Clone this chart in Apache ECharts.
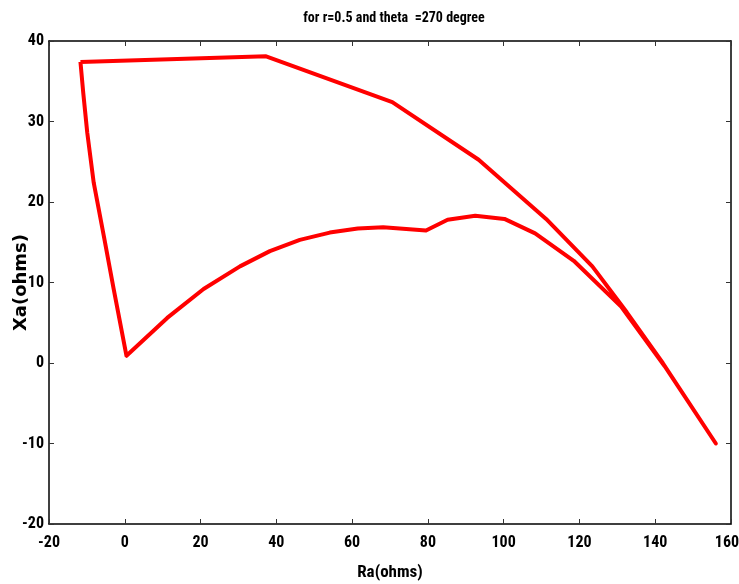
<!DOCTYPE html>
<html>
<head>
<meta charset="utf-8">
<script src="https://cdn.jsdelivr.net/npm/echarts@6/dist/echarts.min.js"></script>
<style>
html,body{margin:0;padding:0;background:#fff;}
#chart{width:739px;height:584px;}
</style>
</head>
<body>
<div id="chart"></div>
<script>
var titleText = 'for r=0.5 and theta  =270 degree';
var xName = 'Ra(ohms)';
var yName = 'Xa(ohms)';
var xTicks = [-20, 0, 20, 40, 60, 80, 100, 120, 140, 160];
var yTicks = [-20, -10, 0, 10, 20, 30, 40];
// path traced around the closed loop
var raValues = [-11.7, 37.3, 70.6, 93.4, 111.2, 123.4, 132.5, 142.0, 156.0,
                142.5, 131.0, 118.5, 108.3, 100.2, 92.5, 85.2, 79.5, 68.2, 61.5, 54.1, 46.2, 38.3, 30.4, 20.8, 11.2, 0.45,
                -2.9, -5.5, -8.2, -9.9, -10.95, -11.7];
var xaValues = [37.4, 38.1, 32.4, 25.25, 17.9, 12.0, 6.3, 0.0, -10.0,
                -0.4, 7.0, 12.7, 16.1, 17.9, 18.3, 17.8, 16.45, 16.85, 16.7, 16.2, 15.3, 13.9, 12.0, 9.2, 5.6, 0.9,
                9.1, 15.7, 22.4, 28.6, 33.5, 37.4];

var pts = raValues.map(function(v, i){ return [v, xaValues[i]]; });
var font = '"Liberation Sans Narrow", "Roboto Condensed", "Liberation Sans", Arial, sans-serif';

var chart = echarts.init(document.getElementById('chart'));
var axisCommon = {
  axisLine: {show: true, onZero: false, lineStyle: {color: '#000', width: 1.5}},
  axisTick: {show: true, inside: true, length: 5, lineStyle: {color: '#333'}},
  splitLine: {show: false}
};
function mk(base, extra){ return Object.assign({}, base, extra); }
chart.setOption({
  animation: false,
  backgroundColor: '#fff',
  title: {
    text: titleText, left: 389, top: 6, textAlign: 'center',
    textStyle: {fontFamily: font, fontWeight: 'bold', fontSize: 14, color: '#000'}
  },
  grid: {left: 49, right: 8, top: 41, bottom: 60, containLabel: false, outerBoundsMode: 'none'},
  xAxis: [
    mk(axisCommon, {type: 'value', min: -20, max: 160, interval: 20, position: 'bottom',
      name: xName, nameLocation: 'middle', nameGap: 40, nameMoveOverlap: false,
      nameTextStyle: {fontFamily: font, fontWeight: 'bold', fontSize: 17, color: '#000'},
      axisLabel: {fontFamily: font, fontWeight: 'bold', fontSize: 16, color: '#000', margin: 11,
        formatter: function(v){
          if (xTicks.indexOf(v) < 0) return '';
          return v === xTicks[xTicks.length - 1] ? '{r|' + v + '}' : String(v);
        },
        rich: {r: {fontFamily: font, fontWeight: 'bold', fontSize: 16, color: '#000', padding: [0, 8, 0, 0]}}}}),
    mk(axisCommon, {type: 'value', min: -20, max: 160, interval: 20, position: 'top', axisLabel: {show: false}})
  ],
  yAxis: [
    mk(axisCommon, {type: 'value', min: -20, max: 40, interval: 10, position: 'left',
      name: yName, nameLocation: 'middle', nameGap: 19, nameRotate: 90, nameMoveOverlap: false,
      nameTextStyle: {fontFamily: '"DejaVu Sans", "Liberation Sans", Arial, sans-serif', fontWeight: 'bold', fontSize: 18, color: '#000'},
      axisLabel: {fontFamily: font, fontWeight: 'bold', fontSize: 16, color: '#000', margin: 5,
        formatter: function(v){ return yTicks.indexOf(v) >= 0 ? String(v) : ''; }}}),
    mk(axisCommon, {type: 'value', min: -20, max: 40, interval: 10, position: 'right', axisLabel: {show: false}})
  ],
  series: [{
    type: 'line', data: pts, showSymbol: false, smooth: false,
    lineStyle: {color: '#ff0000', width: 4, join: 'round'},
    xAxisIndex: 0, yAxisIndex: 0
  }]
});
</script>
</body>
</html>
